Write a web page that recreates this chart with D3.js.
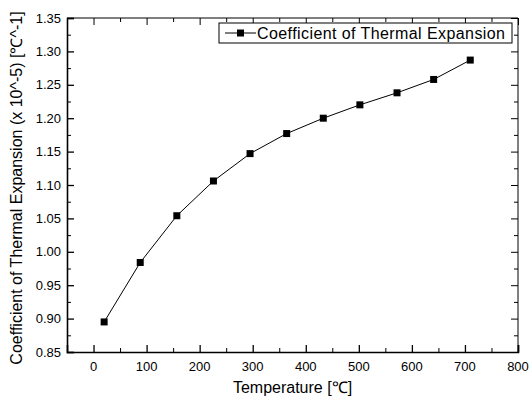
<!DOCTYPE html>
<html>
<head>
<meta charset="utf-8">
<script src="https://cdn.jsdelivr.net/npm/d3@7"></script>
<style>
  body { margin: 0; background: #fff; }
  text { font-family: Arial, "Liberation Sans", sans-serif; fill: #000; }
</style>
</head>
<body>
<svg id="chart"></svg>
<script>
const temperature = [20, 88, 157, 226, 295, 364, 433, 502, 572, 641, 710];
const cte = [0.895, 0.984, 1.054, 1.106, 1.147, 1.177, 1.200, 1.220, 1.238, 1.258, 1.287];
const xTicks = [0, 100, 200, 300, 400, 500, 600, 700, 800];
const yTicks = [0.85, 0.90, 0.95, 1.00, 1.05, 1.10, 1.15, 1.20, 1.25, 1.30, 1.35];
const seriesName = "Coefficient of Thermal Expansion";

const W = 530, H = 397;
const m = { top: 18, right: 12, bottom: 45, left: 67 };

const svg = d3.select("#chart").attr("width", W).attr("height", H);

const x = d3.scaleLinear().domain([-50, 800]).range([m.left, W - m.right]);
const y = d3.scaleLinear().domain([0.85, 1.35]).range([H - m.bottom, m.top]);

const xMinor = d3.range(-50, 801, 50).filter(v => v % 100 !== 0);
const yMinor = d3.range(0, 10).map(i => 0.875 + i * 0.05);

// bottom axis, ticks pointing inward
const gx = svg.append("g").attr("transform", `translate(0,${y.range()[0]})`)
  .call(d3.axisTop(x).tickValues(xTicks).tickSize(7).tickFormat(""));
gx.selectAll(".tick line").attr("stroke-width", 1.3);
gx.append("g").call(d3.axisTop(x).tickValues(xMinor).tickSize(4).tickFormat(""))
  .select(".domain").remove();
gx.select(".domain").attr("stroke-width", 1.6);
svg.append("g").selectAll("text").data(xTicks).join("text")
  .attr("x", d => x(d)).attr("y", y.range()[0] + 19)
  .attr("text-anchor", "middle").attr("font-size", 13)
  .text(d => d);

// left axis
const gy = svg.append("g").attr("transform", `translate(${m.left},0)`)
  .call(d3.axisRight(y).tickValues(yTicks).tickSize(7).tickFormat(""));
gy.selectAll(".tick line").attr("stroke-width", 1.3);
gy.append("g").call(d3.axisRight(y).tickValues(yMinor).tickSize(4).tickFormat(""))
  .select(".domain").remove();
gy.select(".domain").attr("stroke-width", 1.6);
svg.append("g").selectAll("text").data(yTicks).join("text")
  .attr("x", m.left - 6).attr("y", d => y(d) + 4.5)
  .attr("text-anchor", "end").attr("font-size", 13)
  .text(d => d.toFixed(2));

// top & right axes (ticks only)
const gt = svg.append("g").attr("transform", `translate(0,${m.top})`)
  .call(d3.axisBottom(x).tickValues(xTicks).tickSize(7).tickFormat(""));
gt.append("g").call(d3.axisBottom(x).tickValues(xMinor).tickSize(4).tickFormat(""))
  .select(".domain").remove();
const gr = svg.append("g").attr("transform", `translate(${W - m.right},0)`)
  .call(d3.axisLeft(y).tickValues(yTicks).tickSize(7).tickFormat(""));
gr.append("g").call(d3.axisLeft(y).tickValues(yMinor).tickSize(4).tickFormat(""))
  .select(".domain").remove();
gt.select(".domain").attr("d", `M${x.range()[0]},0H${x.range()[1]}`);
gr.select(".domain").attr("d", `M0,${y.range()[1]}V${y.range()[0]}`);

// series
const pts = temperature.map((t, i) => [t, cte[i]]);
svg.append("path").datum(pts)
  .attr("fill", "none").attr("stroke", "#000").attr("stroke-width", 1)
  .attr("d", d3.line().x(d => x(d[0])).y(d => y(d[1])));
svg.append("g").selectAll("rect").data(pts).join("rect")
  .attr("x", d => x(d[0]) - 3.5).attr("y", d => y(d[1]) - 3.5)
  .attr("width", 7).attr("height", 7).attr("fill", "#000");

// legend
const lg = svg.append("g").attr("transform", "translate(219,23)");
lg.append("rect").attr("width", 293).attr("height", 20)
  .attr("fill", "#fff").attr("stroke", "#000").attr("stroke-width", 1);
lg.append("line").attr("x1", 6).attr("x2", 37).attr("y1", 10).attr("y2", 10)
  .attr("stroke", "#000");
lg.append("rect").attr("x", 18).attr("y", 6.5).attr("width", 7).attr("height", 7).attr("fill", "#000");
lg.append("text").attr("x", 38).attr("y", 16).attr("font-size", 16)
  .attr("textLength", 248).attr("lengthAdjust", "spacing").text(seriesName);

// axis titles
svg.append("text").attr("x", (m.left + W - m.right) / 2).attr("y", 393)
  .attr("text-anchor", "middle").attr("font-size", 16).text("Temperature [℃]");
svg.append("text").attr("transform", `translate(22,${(m.top + H - m.bottom) / 2 + 3}) rotate(-90)`)
  .attr("text-anchor", "middle").attr("font-size", 16)
  .text("Coefficient of Thermal Expansion (x 10^-5) [℃^-1]");
</script>
</body>
</html>
